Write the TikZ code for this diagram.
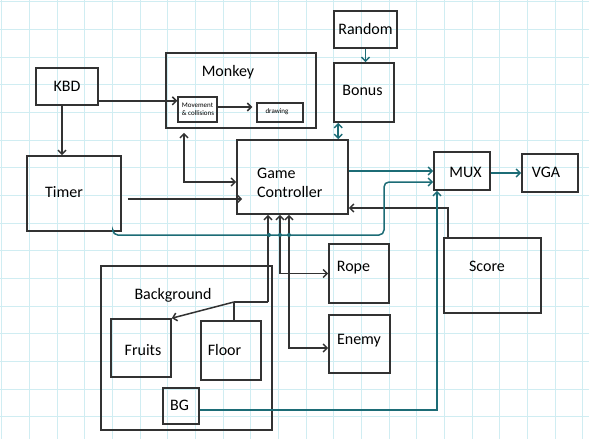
\documentclass[tikz,border=0pt]{standalone}
\usepackage{fontspec}
\setmainfont{Carlito}
\usetikzlibrary{arrows.meta}
\definecolor{gridc}{RGB}{208,237,242}
\definecolor{linec}{RGB}{50,50,50}
\definecolor{tealc}{RGB}{28,108,118}
\begin{document}
\begin{tikzpicture}[x=1pt,y=-1pt,
  box/.style={draw=linec,line width=1.6pt,inner sep=0pt,fill=none,
    font=\fontsize{16}{19}\selectfont},
  sbox/.style={draw=linec,line width=1.3pt,inner sep=0pt},
  lbl/.style={inner sep=0pt,font=\fontsize{16}{19}\selectfont,text=black},
  slbl/.style={inner sep=0pt,font=\fontsize{7}{8}\selectfont,text=black},
  conn/.style={draw=linec,line width=1.5pt},
  arr/.style={conn,-{Straight Barb[length=4pt,width=8pt]}},
  arrr/.style={conn,{Straight Barb[length=4pt,width=8pt]}-{Straight Barb[length=4pt,width=8pt]}},
  tconn/.style={draw=tealc,line width=1.5pt},
  tarr/.style={tconn,-{Straight Barb[length=4pt,width=8pt]}},
  tarrr/.style={tconn,{Straight Barb[length=4pt,width=8pt]}-{Straight Barb[length=4pt,width=8pt]}},
  dot/.style={circle,fill=tealc,inner sep=0pt,minimum size=4pt}]
\useasboundingbox (0,0) rectangle (589,439);
\fill[white] (0,0) rectangle (589,439);
% grid
\foreach \k in {0,...,21} {
  \draw[gridc,line width=0.9pt] ({1.7+27.67*\k},0) -- ({1.7+27.67*\k},439);
}
\foreach \k in {0,...,15} {
  \draw[gridc,line width=0.9pt] (0,{1.7+27.67*\k}) -- (589,{1.7+27.67*\k});
}
% boxes
\node[box,minimum width=62pt,minimum height=37pt] (KBD) at (67,86.5) {KBD};
\node[box,minimum width=94pt,minimum height=75pt] (Timer) at (74,193.5) {};
\node[lbl] (tTimer) at (64,192) {Timer};
\node[box,minimum width=150pt,minimum height=75pt] (Monkey) at (241,90.5) {};
\node[lbl] (tMonkey) at (228,72) {Monkey};
\node[sbox,minimum width=39pt,minimum height=25pt] (Mov) at (197.5,109.5) {};
\node[slbl,align=left] (tMov) at (198,109.5) {Movement\\\& collisions};
\node[sbox,minimum width=46pt,minimum height=19pt] (drawing) at (280,112.5) {};
\node[slbl] (tdrawing) at (277,111.5) {drawing};
\node[box,minimum width=111pt,minimum height=74pt] (GC) at (292.5,177) {};
\node[lbl,align=left,anchor=west] (tGC) at (257,183) {Game\\Controller};
\node[box,minimum width=63pt,minimum height=37pt] (Random) at (365.5,29.5) {Random};
\node[box,minimum width=60pt,minimum height=59pt] (Bonus) at (364,92.5) {};
\node[lbl] (tBonus) at (362.5,90) {Bonus};
\node[box,minimum width=56pt,minimum height=38pt] (MUX) at (462,171) {};
\node[lbl] (tMUX) at (465.5,172) {MUX};
\node[box,minimum width=56pt,minimum height=38pt] (VGA) at (550,173) {};
\node[lbl] (tVGA) at (546,172) {VGA};
\node[box,minimum width=97pt,minimum height=75pt] (Score) at (492.5,275.5) {};
\node[lbl] (tScore) at (487,266) {Score};
\node[box,minimum width=60pt,minimum height=59pt] (Rope) at (359,273.5) {};
\node[lbl] (tRope) at (353.5,268) {Rope};
\node[box,minimum width=61pt,minimum height=58pt] (Enemy) at (359.5,344) {};
\node[lbl] (tEnemy) at (359,341) {Enemy};
\node[box,minimum width=171pt,minimum height=164pt] (Bkg) at (186.5,348) {};
\node[lbl] (tBkg) at (173,295) {Background};
\node[box,minimum width=60pt,minimum height=58pt] (Fruits) at (141,348) {};
\node[lbl] (tFruits) at (143,350) {Fruits};
\node[box,minimum width=60pt,minimum height=59pt] (Floor) at (231,350.5) {};
\node[lbl] (tFloor) at (224.5,350) {Floor};
\node[box,minimum width=36pt,minimum height=36pt] (BG) at (181,406) {};
\node[lbl] (tBG) at (179.5,405) {BG};
% coordinates
\coordinate (bgk) at (268,302);
\coordinate (bgj) at (234,302);
\coordinate (tbend) at (384,235);
% black connectors
\draw[arr] ([yshift=5pt]KBD.south east) -- ([yshift=5pt]KBD.south east -| Mov.west);
\draw[arr] ([xshift=-5pt]KBD.south) -- ([xshift=-5pt]KBD.south |- Timer.north);
\draw[arr,shorten >=4pt] ([yshift=2.5pt]Mov.east) -- ([yshift=2.5pt]Mov.east -| drawing.west);
\draw[arrr,shorten <=4pt] ([xshift=-57pt]Monkey.south) |- ([yshift=-5pt]GC.west);
\draw[arr] ([xshift=6pt,yshift=-5.5pt]Timer.east) -- ([xshift=6pt,yshift=-5.5pt]Timer.east -| GC.west);
\draw[arr] ([xshift=5pt]Score.north west) |- ([yshift=-31pt]GC.east);
\draw[arr] (bgk) -- (bgk |- GC.south);
\draw[conn] (bgk) -- (bgj);
\draw[arr] (bgj) -- (Fruits.north east);
\draw[conn] (bgj) -- (bgj |- Floor.north);
\draw[arrr] ([xshift=-12.5pt]GC.south) |- (Rope.west);
\draw[arrr] ([xshift=-3.5pt]GC.south) |- ([yshift=-4pt]Enemy.west);
% teal connectors
\draw[tarr] (Random.south) -- (Random.south |- Bonus.north);
\draw[tarrr] ([xshift=5pt]Bonus.south west) -- ([xshift=5pt]Bonus.south west |- GC.north);
\draw[tarr] ([yshift=6pt]GC.east) -- (MUX.west);
\draw[tarr] ([yshift=-2pt]MUX.east) -- ([yshift=-2pt]MUX.east -| VGA.west);
\draw[tarr,rounded corners=5pt] ([xshift=-9pt]Timer.south east) |- (tbend) |- ([yshift=-11pt]MUX.west);
\draw[tarr] ([yshift=-4pt]BG.east) -| ([xshift=-25pt]MUX.south);
\node[dot] (d1) at ([xshift=-23.5pt]GC.south |- tbend) {};
\node[dot] (d2) at ([xshift=-12.5pt]GC.south |- tbend) {};
\node[dot] (d3) at ([xshift=-3.5pt]GC.south |- tbend) {};
\end{tikzpicture}
\end{document}
